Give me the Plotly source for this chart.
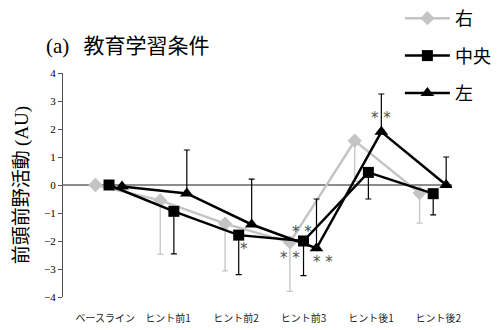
import plotly.graph_objects as go

# Conditions along the horizontal axis
categories = ["ベースライン", "ヒント前1", "ヒント前2", "ヒント前3", "ヒント後1", "ヒント後2"]

# Mean prefrontal activity per electrode site and its one-sided error
right_vals = [0.0, -0.55, -1.38, -2.05, 1.58, -0.29]
right_err = [0.0, 1.93, 1.69, 1.75, 1.45, 1.07]

center_vals = [0.0, -0.94, -1.79, -2.0, 0.45, -0.31]
center_err = [0.0, 1.52, 1.41, 1.24, 0.95, 0.76]

left_vals = [-0.05, -0.3, -1.41, -2.26, 1.9, 0.0]
left_err = [0.0, 1.55, 1.62, 1.76, 1.35, 1.0]

y_ticks = [-4, -3, -2, -1, 0, 1, 2, 3, 4]

# Significance marks: (x position, y position, text)
sig_marks = [
    (2.29, -2.3, "*"),
    (3.0, -2.6, "* *"),
    (3.19, -1.67, "* *"),
    (3.51, -2.74, "* *"),
    (4.41, 2.4, "* *"),
]

idx = list(range(len(categories)))
x_right = [i for i in idx]
x_center = [i + 0.21 for i in idx]
x_left = [i + 0.41 for i in idx]
# label anchor for each category group
label_pos = [0.15, 1.12, 2.17, 3.21, 4.25, 5.29]

CJK = "Noto Sans CJK JP"
SERIF = "Times New Roman, Liberation Serif, serif"

fig = go.Figure()

fig.add_trace(go.Scatter(
    x=x_right, y=right_vals, name="右", mode="lines+markers",
    legendgroup="r",
    line=dict(color="#c4c4c4", width=2.5),
    marker=dict(symbol="diamond", size=11, color="#c4c4c4"),
    error_y=dict(type="data", symmetric=False,
                 array=[0] * len(right_err), arrayminus=right_err,
                 color="#c4c4c4", thickness=1.3, width=3),
))
fig.add_trace(go.Scatter(
    x=x_center, y=center_vals, name="中央", mode="lines+markers",
    legendgroup="c",
    line=dict(color="black", width=2.5),
    marker=dict(symbol="square", size=11, color="black"),
    error_y=dict(type="data", symmetric=False,
                 array=[0] * len(center_err), arrayminus=center_err,
                 color="black", thickness=1.2, width=3),
))
fig.add_trace(go.Scatter(
    x=x_left, y=left_vals, name="左", mode="lines+markers",
    legendgroup="l",
    line=dict(color="black", width=2.5),
    marker=dict(symbol="triangle-up", size=12, color="black"),
    error_y=dict(type="data", symmetric=False,
                 array=left_err, arrayminus=[0] * len(left_err),
                 color="black", thickness=1.2, width=3),
))

for x, y, t in sig_marks:
    fig.add_annotation(x=x, y=y, text=t, showarrow=False,
                       font=dict(family="DejaVu Sans", size=15, color="#505050"))

fig.add_annotation(
    xref="paper", yref="paper", x=-0.05, y=1.13, xanchor="left", yanchor="middle",
    text="<span style='font-family:Times New Roman, Liberation Serif, serif'>(a)</span>   教育学習条件",
    showarrow=False, font=dict(family=CJK, size=21, color="black"),
)

fig.update_layout(
    width=503, height=330,
    margin=dict(l=63, r=51, t=73, b=33, autoexpand=False),
    paper_bgcolor="white", plot_bgcolor="white",
    showlegend=True,
    legend=dict(
        xref="container", yref="container",
        x=0.795, y=1.0, xanchor="left", yanchor="top",
        font=dict(family=CJK, size=18, color="black"),
        tracegroupgap=11, itemwidth=45,
        bgcolor="rgba(0,0,0,0)",
    ),
    xaxis=dict(
        range=[-0.5, 5.5], tickmode="array",
        tickvals=label_pos, ticktext=categories,
        showgrid=False, zeroline=False, showline=False, ticks="",
        tickfont=dict(family=CJK, size=10, color="#222"),
        ticklabelstandoff=14,
    ),
    yaxis=dict(
        range=[-4, 4], tickmode="array", tickvals=y_ticks,
        showgrid=False, zeroline=True, zerolinecolor="#8c8c8c", zerolinewidth=1.5,
        showline=True, linecolor="#555", linewidth=1,
        ticks="outside", ticklen=4, tickcolor="#555",
        tickfont=dict(family=SERIF, size=11, color="black"),
        title=dict(
            text="前頭前野活動 <span style='font-family:Times New Roman, Liberation Serif, serif'>(AU)</span>",
            font=dict(family=CJK, size=19, color="black"), standoff=10,
        ),
    ),
)

fig.write_html("out.html")
